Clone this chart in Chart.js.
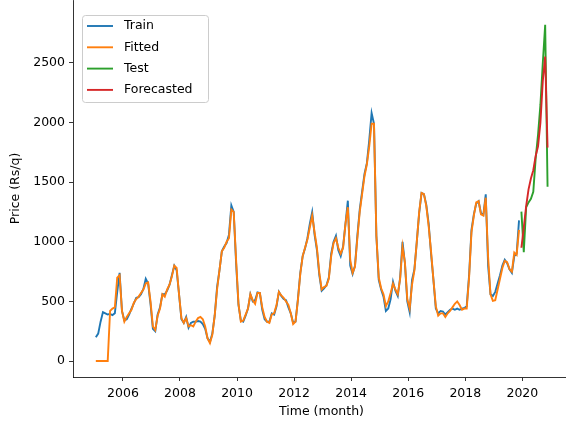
<!DOCTYPE html>
<html>
<head>
<meta charset="utf-8">
<script src="https://cdn.jsdelivr.net/npm/chart.js@4.4.1/dist/chart.umd.min.js"></script>
<style>
  html, body { margin: 0; padding: 0; background: #fff; overflow: hidden; }
  #wrap { width: 572px; height: 423px; }
</style>
</head>
<body>
<div id="wrap"><canvas id="priceChart" width="572" height="423"></canvas></div>
<script>
// monthly series, first month is Jan 2005
const startYear = 2005;
const trainPrice = [
  199, 230, 330, 410, 400, 390, 395, 385, 400, 580,
  740, 420, 340, 350, 390, 440, 484, 530, 535, 560,
  605, 690, 650, 480, 270, 250, 390, 450, 560, 560,
  590, 640, 720, 800, 760, 560, 350, 320, 370, 280,
  320, 330, 330, 335, 330, 310, 270, 190, 160, 230,
  380, 620, 760, 920, 960, 990, 1060, 1305, 1250, 820,
  470, 340, 330, 380, 440, 560, 500, 510, 575, 570,
  430, 350, 330, 330, 400, 390, 460, 580, 545, 520,
  510, 450, 400, 320, 330, 520, 740, 880, 945, 1030,
  1150, 1250, 1060, 930, 720, 590, 610, 635, 700, 900,
  1000, 1050, 930, 880, 960, 1150, 1345, 800, 730, 800,
  1050, 1270, 1420, 1570, 1660, 1850, 2080, 1990, 1050, 680,
  600, 540, 420, 440, 520, 665, 590, 545, 700, 1000,
  820, 500, 410, 680, 770, 1000, 1240, 1410, 1400, 1310,
  1150, 900, 680, 440, 400, 420, 415, 390, 410, 430,
  440, 430, 440, 430, 440, 445, 460, 720, 1100, 1230,
  1320, 1340, 1240, 1225, 1398, 800, 560, 545, 580, 650,
  720, 800, 850, 820, 770, 740, 880, 900, 1180
];
const fittedPrice = [
  0, 0, 0, 0, 0, 0, 420, 440, 450, 700,
  720, 420, 330, 370, 400, 430, 490, 520, 540, 570,
  600, 650, 660, 500, 290, 260, 380, 440, 560, 540,
  600, 640, 710, 800, 780, 560, 360, 320, 360, 290,
  300, 290, 330, 360, 370, 350, 290, 190, 150, 220,
  380, 600, 760, 920, 950, 1000, 1030, 1270, 1250, 850,
  480, 330, 340, 390, 440, 560, 510, 480, 570, 570,
  450, 370, 330, 320, 390, 400, 470, 580, 550, 530,
  500, 470, 400, 310, 330, 510, 730, 880, 950, 1020,
  1120, 1220, 1080, 950, 740, 600, 620, 630, 690, 880,
  990, 1030, 950, 900, 950, 1150, 1290, 850, 740, 790,
  1030, 1250, 1400, 1550, 1650, 1800, 1990, 1990, 1050, 700,
  610, 560, 460, 500, 570, 650, 600, 560, 690, 960,
  830, 520, 440, 640, 760, 1000, 1250, 1410, 1400, 1300,
  1130, 920, 680, 460, 380, 400, 400, 370, 400, 420,
  450, 480, 500, 470, 430, 440, 440, 700, 1080, 1220,
  1330, 1340, 1230, 1220, 1370, 870, 560, 505, 510, 600,
  690, 780, 840, 830, 770, 750, 910, 890, 1100
];
// test window starts right after the last training month
const testPrice = [1253, 912, 1290, 1330, 1360, 1420, 1700, 1900, 2150, 2500, 2820, 1462];
const forecastPrice = [950, 1120, 1300, 1440, 1530, 1600, 1720, 1800, 2000, 2350, 2553, 1790];

const xTicks = [2006, 2008, 2010, 2012, 2014, 2016, 2018, 2020];
const yTicks = [0, 500, 1000, 1500, 2000, 2500];

function monthTime(i) { return startYear + (i + 0.6) / 12; }
function toPoints(values, offset) {
  return values.map((v, i) => ({ x: monthTime(i + offset), y: v }));
}

const fontFamily = "'DejaVu Sans', sans-serif";

// <-- legend box like matplotlib's upper-left legend -->
const boxLegend = {
  id: 'boxLegend',
  afterDraw(chart) {
    const ctx = chart.ctx;
    const x = 82, y = 15, w = 126, h = 87;
    ctx.save();
    ctx.beginPath();
    ctx.roundRect(x + 0.5, y + 0.5, w, h, 3);
    ctx.fillStyle = 'rgba(255,255,255,0.8)';
    ctx.fill();
    ctx.strokeStyle = '#cccccc';
    ctx.lineWidth = 1;
    ctx.stroke();
    ctx.font = '12.5px ' + fontFamily;
    ctx.textBaseline = 'middle';
    chart.data.datasets.forEach((ds, i) => {
      const cy = y + 11 + i * 21.3;
      ctx.beginPath();
      ctx.moveTo(x + 5, cy);
      ctx.lineTo(x + 31, cy);
      ctx.strokeStyle = ds.borderColor;
      ctx.lineWidth = 1.9;
      ctx.stroke();
      ctx.fillStyle = '#000';
      ctx.fillText(ds.label, x + 42, cy);
    });
    ctx.restore();
  }
};

// later series sit on top, as in the original plot
function lineSet(label, color, values, offset, order) {
  return {
    label,
    order,
    data: toPoints(values, offset),
    borderColor: color,
    backgroundColor: color,
    borderWidth: 1.9,
    pointRadius: 0,
    tension: 0,
    fill: false
  };
}

window.addEventListener('DOMContentLoaded', function () {
  const ctx = document.getElementById('priceChart');
  new Chart(ctx, {
    type: 'line',
    data: {
      datasets: [
        lineSet('Train', '#1f77b4', trainPrice, 0, 4),
        lineSet('Fitted', '#ff7f0e', fittedPrice, 0, 3),
        lineSet('Test', '#2ca02c', testPrice, trainPrice.length, 2),
        lineSet('Forecasted', '#d62728', forecastPrice, trainPrice.length, 1)
      ]
    },
    options: {
      responsive: false,
      animation: false,
      devicePixelRatio: 1,
      layout: { padding: { top: 0, right: 2, left: 0, bottom: 0 } },
      plugins: { legend: { display: false }, tooltip: { enabled: false } },
      scales: {
        x: {
          type: 'linear',
          min: 2004.25,
          max: 2021.67,
          afterFit: s => { s.height = 46; s.paddingLeft = 0; s.paddingRight = 0; },
          afterBuildTicks: s => { s.ticks = xTicks.map(v => ({ value: v })); },
          grid: { drawOnChartArea: false, drawTicks: true, tickLength: 4, color: '#000', lineWidth: 0.8 },
          border: { display: true, color: '#000', width: 0.8 },
          ticks: {
            color: '#000', padding: 5, maxRotation: 0, autoSkip: false,
            font: { family: fontFamily, size: 12.5 },
            callback: v => String(v)
          },
          title: {
            display: true, text: 'Time (month)', color: '#000',
            font: { family: fontFamily, size: 12.5 },
            padding: { top: 0, bottom: 3.5 }
          }
        },
        y: {
          min: -134,
          max: 3028,
          afterFit: s => { s.width = 73; s.paddingTop = 0; s.paddingBottom = 0; },
          afterBuildTicks: s => { s.ticks = yTicks.map(v => ({ value: v })); },
          grid: { drawOnChartArea: false, drawTicks: true, tickLength: 4, color: '#000', lineWidth: 0.8 },
          border: { display: true, color: '#000', width: 0.8 },
          ticks: {
            color: '#000', padding: 4,
            font: { family: fontFamily, size: 12.5 },
            callback: v => String(v)
          },
          title: {
            display: true, text: 'Price (Rs/q)', color: '#000',
            font: { family: fontFamily, size: 12.5 },
            padding: { top: 8.5, bottom: 0 }
          }
        }
      }
    },
    plugins: [boxLegend]
  });
});
</script>
</body>
</html>
